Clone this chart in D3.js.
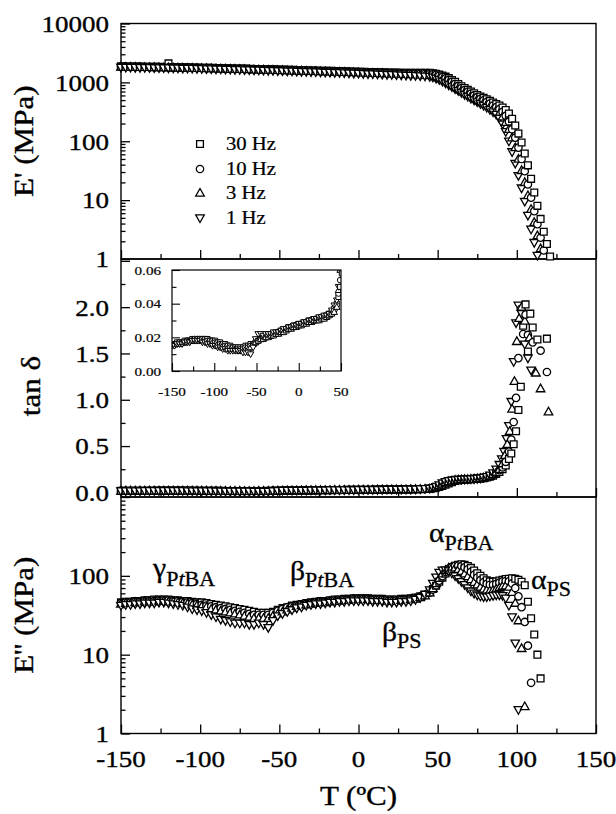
<!DOCTYPE html>
<html><head><meta charset="utf-8">
<script src="https://cdn.jsdelivr.net/npm/d3@7"></script>
<style>body{margin:0;background:#fff}svg{display:block}</style>
</head><body><svg id="c" width="616" height="814"></svg>
<script>
// ---------------- DATA ----------------
const temps = [-150,-147,-144,-141,-138,-135,-132,-129,-126,-123,
-120,-117,-114,-111,-108,-105,-102,-99,-96,-93,
-90,-87,-84,-81,-78,-75,-72,-69,-66,-63,
-60,-57,-54,-51,-48,-45,-42,-39,-36,-33,
-30,-27,-24,-21,-18,-15,-12,-9,-6,-3,
0,3,6,9,12,15,18,21,24,27,
30,33,36,39,42,45,
47,49,51,53,55,57,59,61,63,65,
67,69,71,73,75,77,79,81,83,85,
87,89,91,93,95,97,99,101,103,105,
107,109,111,113,115,117,119,121];

const seriesNames = ["30 Hz","10 Hz","3 Hz","1 Hz"];
const seriesShapes = ["square","circle","triUp","triDown"];

// E' (MPa)
const eStor30 = [1870,1865,1860,1855,1850,1845,1840,1835,1830,1825,
2100,1815,1810,1800,1795,1790,1780,1775,1770,1760,
1755,1745,1740,1730,1725,1715,1710,1700,1690,1685,
1675,1670,1660,1650,1645,1635,1630,1620,1610,1605,
1595,1590,1580,1570,1565,1555,1550,1540,1530,1525,
1515,1510,1500,1495,1490,1480,1475,1470,1465,1460,
1458,1455,1453,1452,1451,1450,
1430,1400,1360,1310,1250,1180,1100,1020,940,860,
800,745,700,655,610,575,545,515,485,455,
430,405,375,340,295,240,185,135,95,62,
39,23,13.5,8,4.8,2.9,1.8,1.1];
const eStor10 = [1850,1845,1840,1835,1830,1825,1820,1815,1810,1805,
1800,1795,1790,1780,1775,1770,1760,1755,1750,1740,
1735,1725,1720,1710,1700,1695,1685,1680,1670,1660,
1655,1645,1640,1630,1620,1615,1605,1600,1590,1580,
1575,1565,1560,1550,1540,1535,1525,1520,1510,1500,
1495,1485,1480,1470,1465,1455,1450,1440,1430,1425,
1420,1415,1410,1405,1400,1395,
1370,1340,1295,1240,1170,1100,1020,945,870,800,
740,690,645,600,560,525,495,465,435,405,
380,350,315,270,215,160,115,78,50,31,
18.5,11,6.5,3.9,2.3,1.4,null,null];
const eStor3 = [1830,1825,1820,1815,1810,1805,1800,1795,1790,1785,
1780,1775,1770,1760,1755,1750,1740,1735,1725,1720,
1710,1705,1695,1690,1680,1670,1665,1655,1645,1640,
1630,1620,1615,1605,1595,1590,1580,1570,1565,1555,
1545,1540,1530,1520,1515,1505,1495,1490,1480,1470,
1465,1455,1445,1440,1430,1420,1410,1400,1395,1385,
1375,1365,1355,1345,1335,1325,
1290,1250,1200,1140,1070,1000,930,860,795,735,
680,630,590,550,515,480,450,420,390,360,
335,300,260,210,160,115,78,50,32,20,
12,7,4.2,2.5,1.5,null,null,null];
const eStor1 = [1800,1795,1790,1785,1780,1775,1770,1765,1760,1755,
1750,1745,1740,1730,1725,1720,1710,1705,1695,1690,
1680,1670,1665,1655,1645,1640,1630,1620,1615,1605,
1595,1585,1580,1570,1560,1550,1545,1535,1525,1515,
1505,1500,1490,1480,1470,1460,1455,1445,1435,1425,
1415,1405,1395,1385,1375,1365,1355,1345,1335,1325,
1315,1305,1295,1285,1270,1255,
1220,1170,1110,1040,970,900,835,775,720,670,
620,575,535,500,465,435,405,375,345,315,
285,245,195,145,100,66,42,26,16,9.5,
5.5,3.2,1.9,1.15,null,null,null,null];

// tan delta on the temperature grid (low-temperature part)
const tan30 = [.016,.016,.017,.017,.017,.018,.018,.018,.019,.019,
.019,.019,.019,.019,.019,.018,.018,.018,.017,.017,
.016,.016,.015,.015,.014,.014,.014,.014,.014,.015,
.015,.016,.016,.017,.018,.019,.020,.020,.021,.021,
.022,.022,.023,.024,.024,.025,.026,.026,.027,.027,
.028,.028,.029,.029,.030,.030,.030,.031,.031,.032,
.032,.033,.034,.035,.037,.040,
.044,.050,.058,.068,.082,.097,.110,.122,.130,.136,
.140,.142,.143,.145,.147,.150,.154,.160,.168,.180,
.200,.220,.250,.290];
const tan10 = [.016,.016,.016,.017,.017,.017,.018,.018,.018,.019,
.019,.019,.019,.019,.018,.018,.018,.017,.017,.016,
.016,.015,.015,.014,.014,.013,.013,.013,.013,.014,
.014,.015,.016,.017,.018,.019,.019,.020,.021,.021,
.022,.022,.023,.023,.024,.025,.025,.026,.026,.027,
.027,.028,.028,.029,.029,.030,.030,.031,.031,.031,
.032,.032,.033,.034,.036,.039,
.046,.054,.065,.078,.094,.108,.120,.128,.134,.138,
.140,.141,.143,.145,.147,.150,.155,.162,.172,.188,
.210,.240,.270];
const tan3 = [.015,.016,.016,.016,.017,.017,.017,.018,.018,.018,
.018,.018,.018,.018,.017,.017,.017,.016,.016,.015,
.015,.014,.014,.013,.013,.013,.012,.012,.012,.013,
.013,.014,.016,.017,.018,.019,.019,.020,.020,.021,
.021,.022,.022,.023,.023,.024,.025,.025,.026,.026,
.027,.027,.028,.028,.029,.029,.030,.030,.030,.031,
.031,.032,.033,.034,.035,.038,
.048,.060,.074,.090,.105,.118,.126,.132,.136,.138,
.140,.141,.143,.145,.148,.152,.158,.166,.178,.196,
.220,.250];
const tan1 = [.015,.015,.016,.016,.016,.017,.017,.017,.018,.018,
.018,.018,.017,.017,.016,.016,.015,.015,.014,.014,
.013,.013,.012,.012,.012,.012,.012,.012,.011,.011,
.011,.010,.014,.019,.022,.022,.021,.022,.022,.022,
.023,.023,.023,.024,.025,.025,.026,.026,.027,.027,
.028,.028,.029,.029,.030,.030,.031,.031,.032,.032,
.033,.033,.034,.036,.039,.042,
.050,.062,.080,.100,.115,.125,.131,.135,.138,.140,
.141,.142,.144,.146,.149,.153,.160,.170,.185,.210,
.250];
// tan delta near the main peak (scattered points)
const peakT30 = [95,96.5,98,99.5,101,102.5,104,105.5,107,108.5,110,113,119];
const peakV30 = [.36,.42,.52,.66,.89,1.14,1.80,2.03,1.52,1.93,1.78,1.65,1.66];
const peakT10 = [93,95,96.5,98,99.5,101,102.5,104,105.5,107,110,115,119];
const peakV10 = [.33,.44,.57,.76,1.02,1.45,1.98,1.71,1.92,1.70,1.62,1.53,1.30];
const peakT3 = [91,92.5,94,95.5,97,98.5,100,101.5,103,105,108,112,115,120];
const peakV3 = [.31,.40,.52,.66,.90,1.20,1.63,1.88,2.00,1.85,1.67,1.29,1.12,.87];
const peakT1 = [89,90.5,92,93.5,95,96.5,98,99.5,101,103,105,107,109];
const peakV1 = [.30,.36,.44,.58,.72,.98,1.41,1.83,2.02,1.93,1.60,1.45,1.32];

// E'' (MPa)
const eLoss30 = [46,47,47,48,48,49,49,50,50,50,
50,49,49,48,48,47,46,46,45,44,
43,42,41,40,39,38,37,36,35,34,
34,34,35,37,39,40,42,43,44,45,
46,47,48,48,49,50,50,51,51,52,
52,52,52,51,51,51,50,50,50,51,
51,52,53,55,58,62,
68,75,84,95,107,118,127,134,138,140,
138,133,126,117,108,100,93,88,85,84,
85,87,89,91,92,93,92,89,84,76,
47,29,18,10,5,null,null,null];
const eLoss10 = [45,46,46,47,47,48,48,48,49,49,
49,48,48,47,46,45,44,43,42,41,
40,39,38,37,36,35,34,33,32,32,
32,32,34,36,38,40,41,42,43,44,
45,46,47,47,48,49,49,50,50,51,
51,51,51,50,50,50,49,49,49,50,
50,51,52,54,57,61,
67,76,87,99,112,123,130,134,135,133,
128,121,112,103,95,88,83,79,77,77,
79,82,85,86,85,80,70,55,40,26,
13,4.4,null,null,null,null,null,null];
const eLoss3 = [44,45,45,46,46,47,47,47,48,48,
47,47,46,45,44,43,42,41,40,38,
37,36,35,34,33,32,31,30,29,29,
29,29,31,33,35,37,39,41,42,43,
44,45,46,46,47,48,48,49,49,50,
50,50,50,49,49,49,48,48,48,49,
49,50,51,53,56,61,
69,80,93,106,118,126,128,126,121,114,
106,98,90,83,77,72,68,66,65,66,
68,71,74,75,72,62,45,27,12,2.2,
null,null,null,null,null,null,null,null];
const eLoss1 = [42,43,43,44,44,45,45,45,46,46,
45,44,43,42,40,38,37,36,34,32,
30,28,27,26,25,25,25,24,24,25,
24,22,27,31,33,35,37,39,40,42,
43,44,44,45,46,46,47,47,48,48,
48,48,48,47,47,47,46,46,46,47,
47,48,50,53,58,66,
80,96,110,118,119,115,108,100,92,84,
77,70,64,60,57,55,54,54,55,56,
57,57,56,52,42,30,14,2.0,null,null,
null,null,null,null,null,null,null,null];

// tick labels
const xTickVals = [-150,-100,-50,0,50,100,150];
const topTickVals = [1,10,100,1000,10000];
const midTickVals = [0,0.5,1.0,1.5,2.0];
const botTickVals = [1,10,100];
const insetXTickVals = [-150,-100,-50,0,50];
const insetYTickVals = [0,0.02,0.04,0.06];

// ---------------- DRAW ----------------
const FONT = "'Liberation Serif','Times New Roman',Times,serif";
const svg = d3.select("#c");
svg.append("rect").attr("width",616).attr("height",814).attr("fill","#fff");

const L = 121, R = 596;
const PT = [23.5, 259], PM = [259, 497], PB = [497, 733.5];
const x = d3.scaleLinear().domain([-150,150]).range([L,R]);
const yTop = d3.scaleLog().domain([1,10000]).range([PT[1],PT[0]]);
const yMid = d3.scaleLinear().domain([-0.05,2.52]).range([PM[1],PM[0]]);
const yBot = d3.scaleLog().domain([1,1000]).range([PB[1],PB[0]]);

function shapePath(kind, k) {
  k = k || 1;
  if (kind === "square") { const a = 3.4*k; return `M${-a},${-a}h${2*a}v${2*a}h${-2*a}Z`; }
  if (kind === "circle") { const r = 3.7*k; return `M${r},0A${r},${r} 0 1,1 ${-r},0A${r},${r} 0 1,1 ${r},0Z`; }
  const w = 4.3*k, h1 = 4.5*k, h2 = 3.1*k;
  if (kind === "triUp") return `M0,${-h1}L${w},${h2}L${-w},${h2}Z`;
  return `M0,${h1}L${w},${-h2}L${-w},${-h2}Z`;
}

function txt(g, px, py, str, o) {
  o = o || {};
  const t = g.append("text")
    .attr("transform", `translate(${px},${py})` + (o.rot ? ` rotate(${o.rot})` : "") + ` scale(${o.sx || 1.15},1)`)
    .attr("text-anchor", o.anchor || "middle")
    .attr("dominant-baseline", o.baseline || "central")
    .attr("font-family", FONT).attr("font-size", o.size || 24).attr("fill", "#000")
    .attr("stroke", "#000").attr("stroke-width", o.sw === undefined ? 0.35 : o.sw);
  if (str !== null) t.text(str);
  return t;
}

function gridPoints(vals, si) {
  const pts = [];
  vals.forEach((v, i) => { if (v !== null && v !== undefined) pts.push({t: temps[i], v, si}); });
  return pts;
}
function pairPoints(ts, vs, si) { return ts.map((t, i) => ({t, v: vs[i], si})); }

function drawPoints(g, pts, xs, ys, k) {
  pts.sort((a, b) => a.t - b.t || a.si - b.si);
  g.selectAll("path.pt").data(pts).join("path").attr("class","pt")
    .attr("d", d => shapePath(seriesShapes[d.si], k))
    .attr("transform", d => `translate(${xs(d.t)},${ys(d.v)})`)
    .attr("fill", "#fff").attr("stroke", "#000").attr("stroke-width", k < 1 ? 1.0 : 1.3);
}

const eStor = [eStor30, eStor10, eStor3, eStor1];
const tanG = [tan30, tan10, tan3, tan1];
const peakT = [peakT30, peakT10, peakT3, peakT1];
const peakV = [peakV30, peakV10, peakV3, peakV1];
const eLoss = [eLoss30, eLoss10, eLoss3, eLoss1];

[PT, PM, PB].forEach(p => {
  svg.append("rect").attr("x", L).attr("y", p[0]).attr("width", R - L).attr("height", p[1] - p[0])
    .attr("fill", "none").attr("stroke", "#000").attr("stroke-width", 1.4);
});

function styleAxis(g) { g.selectAll(".domain").remove(); g.selectAll("line").attr("stroke","#000").attr("stroke-width",1.3); }
function logMinors(maxDec) { const m = []; for (let d = 1; d < maxDec; d *= 10) for (let j = 2; j <= 9; j++) m.push(d*j); return m; }

[PT, PM, PB].forEach(p => {
  const g = svg.append("g").attr("transform", `translate(0,${p[1]})`);
  g.append("g").call(d3.axisBottom(x).tickValues([-150,-100,-50,0,50,100,150]).tickSize(-9).tickFormat(""));
  g.append("g").call(d3.axisBottom(x).tickValues([-125,-75,-25,25,75,125]).tickSize(-5).tickFormat(""));
  styleAxis(g);
});
function leftTicks(scale, majors, minors) {
  const g = svg.append("g").attr("transform", `translate(${L},0)`);
  g.append("g").call(d3.axisLeft(scale).tickValues(majors).tickSize(-9).tickFormat(""));
  g.append("g").call(d3.axisLeft(scale).tickValues(minors).tickSize(-4.5).tickFormat(""));
  styleAxis(g);
}
leftTicks(yTop, topTickVals, logMinors(10000));
leftTicks(yMid, [0,0.5,1,1.5,2,2.5].filter(v => v <= 2.52), [0.25,0.75,1.25,1.75,2.25]);
leftTicks(yBot, [1,10,100,1000], logMinors(1000));

const lab = svg.append("g");
topTickVals.forEach(v => txt(lab, 109, yTop(v), String(v), {anchor:"end", size:23.5}));
midTickVals.forEach(v => txt(lab, 109, yMid(v), v.toFixed(1), {anchor:"end", size:23.5}));
botTickVals.forEach(v => txt(lab, 109, yBot(v), String(v), {anchor:"end", size:23.5}));
xTickVals.forEach(v => txt(lab, x(v), 759, String(v), {size:23.5}));

txt(lab, 33, (PT[0]+PT[1])/2, "E' (MPa)", {rot:-90, size:27, baseline:"auto"});
txt(lab, 40, 386, "tan δ", {rot:-90, size:27, baseline:"auto"});
txt(lab, 33, (PB[0]+PB[1])/2, "E'' (MPa)", {rot:-90, size:27, baseline:"auto"});
txt(lab, (L+R)/2, 796, "T (ºC)", {size:27});

// ---- top panel data ----
const gTop = svg.append("g");
let ptsTop = [];
eStor.forEach((arr, si) => ptsTop = ptsTop.concat(gridPoints(arr, si)));
drawPoints(gTop, ptsTop, x, yTop, 1);

const legY = [144, 169, 193, 218];
seriesNames.forEach((n, si) => {
  lab.append("path").attr("d", shapePath(seriesShapes[si], 1))
    .attr("transform", `translate(200,${legY[si]})`).attr("fill","#fff").attr("stroke","#000").attr("stroke-width",1.3);
  txt(lab, 226, legY[si], n, {anchor:"start", size:18, sw:0.25});
});

// ---- middle panel data ----
const gMid = svg.append("g");
let ptsMid = [];
tanG.forEach((arr, si) => ptsMid = ptsMid.concat(gridPoints(arr, si)));
peakT.forEach((ts, si) => ptsMid = ptsMid.concat(pairPoints(ts, peakV[si], si)));
drawPoints(gMid, ptsMid, x, yMid, 1);

// inset
const IL = 172, IR = 341, IT = 270, IB = 371;
const xIn = d3.scaleLinear().domain([-150,50]).range([IL,IR]);
const yIn = d3.scaleLinear().domain([0,0.06]).range([IB,IT]);
svg.append("defs").append("clipPath").attr("id","clipIn").append("rect")
  .attr("x", IL).attr("y", IT).attr("width", IR-IL).attr("height", IB-IT);
svg.append("rect").attr("x", IL).attr("y", IT).attr("width", IR-IL).attr("height", IB-IT).attr("fill","#fff");
const gIn = svg.append("g").attr("clip-path","url(#clipIn)");
let ptsIn = [];
tanG.forEach((arr, si) => ptsIn = ptsIn.concat(gridPoints(arr, si).filter(d => d.t <= 51)));
drawPoints(gIn, ptsIn, xIn, yIn, 0.75);
svg.append("rect").attr("x", IL).attr("y", IT).attr("width", IR-IL).attr("height", IB-IT)
  .attr("fill","none").attr("stroke","#000").attr("stroke-width",1.2);
{
  const gb = svg.append("g").attr("transform", `translate(0,${IB})`);
  gb.append("g").call(d3.axisBottom(xIn).tickValues([-150,-100,-50,0,50]).tickSize(-8).tickFormat(""));
  gb.append("g").call(d3.axisBottom(xIn).tickValues([-125,-75,-25,25]).tickSize(-4.5).tickFormat(""));
  styleAxis(gb); gb.selectAll("line").attr("stroke-width",1.1);
  const gl = svg.append("g").attr("transform", `translate(${IL},0)`);
  gl.append("g").call(d3.axisLeft(yIn).tickValues(insetYTickVals).tickSize(-8).tickFormat(""));
  gl.append("g").call(d3.axisLeft(yIn).tickValues([0.01,0.03,0.05]).tickSize(-4.5).tickFormat(""));
  styleAxis(gl); gl.selectAll("line").attr("stroke-width",1.1);
  insetXTickVals.forEach(v => txt(lab, xIn(v), 391, String(v), {size:13.5, sx:1.12, sw:0.2}));
  insetYTickVals.forEach(v => txt(lab, 161, yIn(v), v.toFixed(2), {anchor:"end", size:13.5, sx:1.12, sw:0.2}));
}

// ---- bottom panel data ----
const gBot = svg.append("g");
let ptsBot = [];
eLoss.forEach((arr, si) => ptsBot = ptsBot.concat(gridPoints(arr, si)));
drawPoints(gBot, ptsBot, x, yBot, 1);

function annot(px, py, greek, subParts, dy) {
  const t = txt(lab, px, py, null, {anchor:"start", size:27, baseline:"auto", sx:1.1, sw:0.3});
  t.append("tspan").text(greek);
  subParts.forEach((p, i) => {
    const s = t.append("tspan").attr("font-size", 20).text(p[0]);
    if (i === 0) s.attr("dy", dy);
    if (p[1]) s.attr("font-style", "italic");
  });
}
annot(153, 577, "γ", [["P"],["t",1],["BA"]], 9);
annot(290, 580, "β", [["P"],["t",1],["BA"]], 7);
annot(382, 641, "β", [["PS"]], 7);
annot(429, 542, "α", [["P"],["t",1],["BA"]], 8);
annot(531, 589, "α", [["PS"]], 7);
</script></body></html>
